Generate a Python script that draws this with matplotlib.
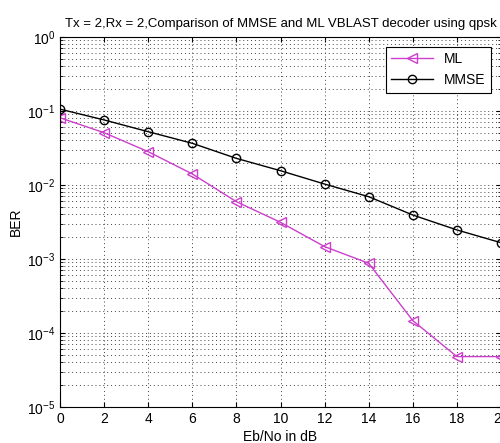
import numpy as np
import matplotlib
matplotlib.use('Agg')
import matplotlib.pyplot as plt
from matplotlib.ticker import LogLocator, NullFormatter

plt.rcParams['font.family'] = ['Liberation Sans', 'DejaVu Sans']

# Eb/No values (dB) and bit error rates
ebno_db = [0, 2, 4, 6, 8, 10, 12, 14, 16, 18, 20]
ber_ml = [0.081, 0.0509, 0.0282, 0.0141, 0.00595, 0.00313, 0.00147,
          0.000875, 0.000147, 4.8e-5, 4.8e-5]
ber_mmse = [0.106, 0.0757, 0.0525, 0.0366, 0.0229, 0.0156, 0.0103,
            0.00695, 0.00393, 0.00247, 0.00166]

x_ticks = [0, 2, 4, 6, 8, 10, 12, 14, 16, 18, 20]

fig = plt.figure(figsize=(5.0, 4.43), dpi=100)
ax = fig.add_axes([60 / 500, 36 / 443, 441 / 500, 370 / 443])

ax.semilogy(ebno_db, ber_ml, color='#cc3fcc', marker='<', markersize=7,
            markerfacecolor='none', markeredgecolor='#cc3fcc', linewidth=1.0,
            label='ML')
ax.semilogy(ebno_db, ber_mmse, color='black', marker='o', markersize=6,
            markerfacecolor='none', markeredgecolor='black', linewidth=1.0,
            label='MMSE')

ax.set_xlim(0, 20)
ax.set_ylim(1e-5, 1)
ax.set_xticks(x_ticks)
ax.yaxis.set_major_locator(LogLocator(base=10, numticks=10))
ax.yaxis.set_minor_locator(LogLocator(base=10, subs=np.arange(2, 10), numticks=20))
ax.yaxis.set_minor_formatter(NullFormatter())

# MATLAB-style dotted grid
ax.grid(True, which='major', linestyle=(0, (1, 3)), color='#444444', linewidth=0.7)
ax.grid(True, which='minor', axis='y', linestyle=(0, (1, 3)), color='#444444',
        linewidth=0.7)
ax.tick_params(direction='in', which='both', top=True, right=True, labelsize=10)

ax.set_title('Tx = 2,Rx = 2,Comparison of MMSE and ML VBLAST decoder using qpsk',
             fontsize=9.5, pad=7)
ax.set_xlabel('Eb/No in dB', fontsize=10, labelpad=3)
ax.set_ylabel('BER', fontsize=10, labelpad=3)

leg = ax.legend(loc='upper right', fontsize=10, fancybox=False, framealpha=1,
                edgecolor='black', borderaxespad=0.7, handlelength=3)
leg.get_frame().set_linewidth(0.8)

plt.savefig('out.png', dpi=100)
